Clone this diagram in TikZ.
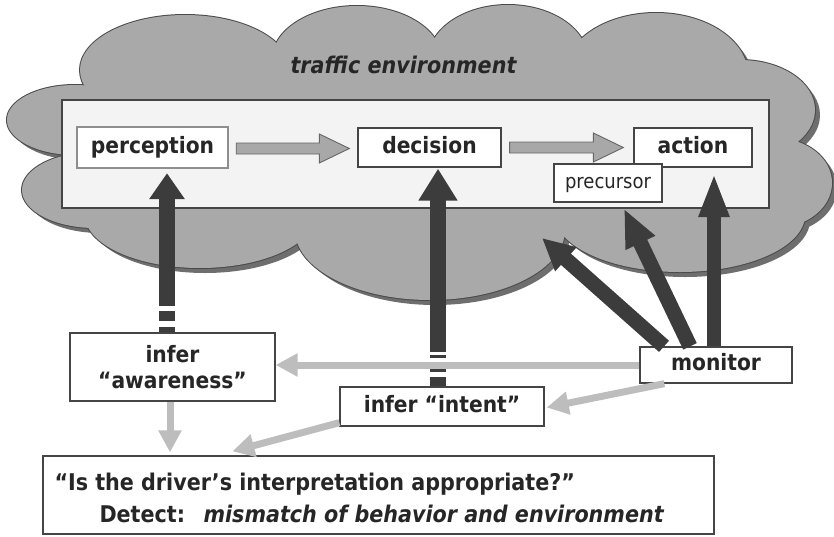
\documentclass[tikz,border=0pt]{standalone}
\usepackage{fontspec}
\setmainfont{DejaVu Sans Condensed}
\usetikzlibrary{arrows.meta,calc}

\definecolor{cloudfill}{HTML}{A9A9A9}
\definecolor{cloudshadow}{HTML}{6E6E6E}
\definecolor{cloudline}{HTML}{4A4A4A}
\definecolor{panelfill}{HTML}{F3F3F3}
\definecolor{ink}{HTML}{262626}
\definecolor{boxline}{HTML}{454545}
\definecolor{percline}{HTML}{8E8E8E}
\definecolor{darkarrow}{HTML}{3C3C3C}
\definecolor{lightarrow}{HTML}{BDBDBD}
\definecolor{flowfill}{HTML}{A8A8A8}
\definecolor{flowline}{HTML}{666666}

% cloud bumps: centre x / centre y / x radius / y radius
\def\bumplist{185/70/105/55, 357/60/85/54, 508/60/80/55, 656/75/92/62,
  740/110/75/50, 775/183/57/45, 680/215/125/57, 430/230/135/70,
  200/215/115/53, 95/190/73/38, 75/120/68/35}

% grey block arrow between two points on one horizontal line
\newcommand\flowarrow[2]{%
  \draw[flowstyle] let \p1=(#1), \p2=(#2) in
    (\x1,\y1+5.5pt) -- (\x2-30pt,\y1+5.5pt) -- (\x2-30pt,\y1+14.5pt) --
    (\x2,\y1) -- (\x2-30pt,\y1-14.5pt) -- (\x2-30pt,\y1-5.5pt) --
    (\x1,\y1-5.5pt) -- cycle;}

\begin{document}
\begin{tikzpicture}[x=1pt,y=-1pt,
  lbl/.style={font=\bfseries\fontsize{22.5}{26}\selectfont, text=ink},
  biglbl/.style={font=\bfseries\fontsize{23}{26}\selectfont, text=ink},
  plainbox/.style={draw=boxline, line width=1.3pt, fill=white, inner sep=0pt,
    text height=16pt, text depth=5pt, lbl},
  flowstyle/.style={fill=flowfill, draw=flowline, line width=0.9pt, line join=miter},
  darkup/.style={draw=darkarrow, line width=16pt},
  darkmon/.style={draw=darkarrow, line width=15pt},
  lightarr/.style={draw=lightarrow, line width=7pt,
    -{Triangle[width=22pt,length=22pt]}}]

\useasboundingbox (0,0) rectangle (834,536);

% --- traffic environment cloud: shadow, outline, body ---
\foreach \cx/\cy/\rx/\ry in \bumplist
  \fill[cloudshadow] (\cx+5,\cy+5) ellipse [x radius=\rx pt, y radius=\ry pt];
\foreach \cx/\cy/\rx/\ry in \bumplist
  \filldraw[fill=cloudfill, draw=cloudline, line width=2pt]
    (\cx,\cy) ellipse [x radius=\rx pt, y radius=\ry pt];
\foreach \cx/\cy/\rx/\ry in \bumplist
  \fill[cloudfill] (\cx,\cy) ellipse [x radius=\rx pt, y radius=\ry pt];
\fill[cloudfill] (110,65) rectangle (740,235);

\node[text=ink, font=\bfseries\itshape\fontsize{23}{26}\selectfont, anchor=base]
  (envtitle) at (403.5,73) {traffic environment};

% --- driver process panel ---
\draw[draw=boxline, fill=panelfill, line width=1.2pt] (62,100) rectangle (769,208);

\node[plainbox, draw=percline, line width=2.4pt, minimum width=151pt, minimum height=41pt]
  (perc) at (152.5,147.5) {perception};
\node[plainbox, minimum width=143pt, minimum height=39pt] (dec) at (429.5,147.5) {decision};
\node[plainbox, minimum width=118pt, minimum height=39pt] (act) at (693,147.5) {action};
\node[plainbox, font=\fontsize{20}{24}\selectfont, minimum width=108pt, minimum height=38pt]
  (prec) at (608,183) {precursor};

\flowarrow{$(perc.east)+(7,1)$}{$(dec.west)+(-8,1)$}
\flowarrow{$(dec.east)+(8,0)$}{$(act.west)+(-10,0)$}

% --- inference and monitoring boxes ---
\node[plainbox, align=center, text height=, text depth=, minimum width=205pt, minimum height=68pt]
  (aware) at (172.5,367) {infer\\“awareness”};
\node[plainbox, minimum width=204pt, minimum height=39pt] (intent) at (442,406.5) {infer “intent”};
\node[plainbox, minimum width=152pt, minimum height=36pt] (mon) at (716,365) {monitor};
\node[plainbox, minimum width=671pt, minimum height=78pt] (quest) at (378.5,495) {};
\node[biglbl, anchor=base west] (qline) at (51,490)
  {“Is the driver’s interpretation appropriate?”};
\node[biglbl, anchor=base west] (qdetect) at (96,522)
  {\makebox[104pt][l]{Detect:}\textit{mismatch of behavior and environment}};

\coordinate (envpt) at (542,238);

% --- dark influence arrows ---
\draw[darkup, dash pattern=on 5pt off 6pt on 10pt off 5pt on 400pt,
  -{Triangle[width=34pt,length=26pt]}]
  ($(aware.north)+(-5.5,0)$) -- ($(perc.south)+(14.5,4)$);
\draw[darkup, dash pattern=on 9pt off 5pt on 4pt off 10pt on 3pt off 3pt on 400pt,
  -{Triangle[width=37pt,length=32pt]}]
  ($(intent.north)+(-4,0)$) -- ($(dec.south)+(8.5,1)$);
\draw[darkmon, line width=14pt, -{Triangle[width=28pt,length=44pt]}]
  ($(mon.north)+(-2,0)$) -- ($(act.south)+(21,5.5)$);
\draw[darkmon, -{Triangle[width=30pt,length=38pt]}]
  ($(mon.north)+(-26,0)$) -- ($(prec.south)+(16,6)$);
\draw[darkmon, -{Triangle[width=30pt,length=32pt]}]
  ($(mon.north)+(-52,0)$) -- (envpt);

% --- light inference arrows ---
\draw[lightarr] (mon.west) -- (mon.west -| aware.east);
\draw[lightarr] ($(mon.south west)+(25,0)$) -- ($(intent.east)+(2,1)$);
\draw[lightarr] ($(aware.south)+(-2.5,0)$) -- ($(aware.south |- quest.north)+(-2.5,-3)$);
\draw[lightarr] ($(intent.south west)+(0,-4)$) -- ($(quest.north west)+(190,-4)$);

\end{tikzpicture}
\end{document}
